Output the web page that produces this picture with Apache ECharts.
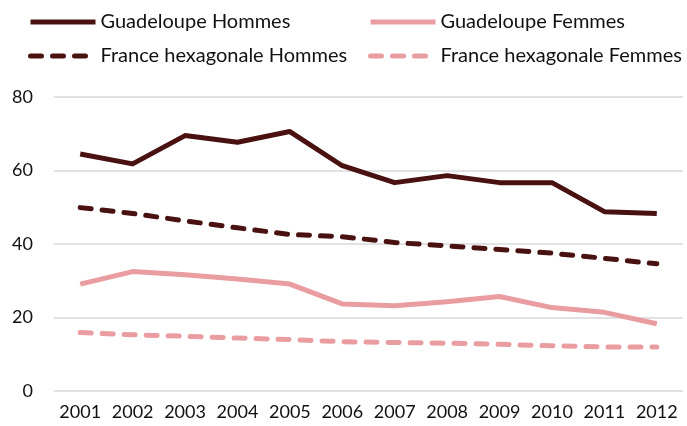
<!DOCTYPE html>
<html><head><meta charset="utf-8">
<script src="https://cdn.jsdelivr.net/npm/echarts@6/dist/echarts.min.js"></script>
<style>html,body{margin:0;padding:0;background:#fff}#c{width:687px;height:426px}</style>
</head><body><div id="c"></div>
<script>
const years = ['2001','2002','2003','2004','2005','2006','2007','2008','2009','2010','2011','2012'];
const guadeloupeHommes = [64.5, 61.8, 69.5, 67.7, 70.6, 61.3, 56.7, 58.6, 56.7, 56.7, 48.8, 48.3];
const guadeloupeFemmes = [29.1, 32.5, 31.6, 30.5, 29.1, 23.7, 23.2, 24.3, 25.7, 22.7, 21.4, 18.3];
const franceHommes = [49.9, 48.3, 46.3, 44.4, 42.6, 42.0, 40.4, 39.5, 38.5, 37.5, 36.1, 34.6];
const franceFemmes = [15.9, 15.3, 14.9, 14.4, 14.0, 13.4, 13.2, 13.0, 12.7, 12.3, 12.0, 12.0];
const yTicks = [0, 20, 40, 60, 80];

const DARK = '#4a1111', PINK = '#e99da1';
const FONT = 'Lato';
function mk(name, data, color, dashed) {
  return {
    name, type: 'line', data, symbol: 'none', smooth: false,
    lineStyle: { color, width: 5, type: dashed ? [11, 11] : 'solid', cap: dashed ? 'round' : 'butt', join: 'round' },
    itemStyle: { color }, emphasis: { disabled: true }
  };
}
function lg(name, left, top) {
  return {
    data: [name], left, top, itemWidth: 65, itemHeight: 14, itemGap: 0,
    textStyle: { fontFamily: FONT, fontSize: 20, color: '#111' },
    lineStyle: { width: 5 }, itemStyle: { opacity: 0 },
    selectedMode: false, padding: 0
  };
}
const chart = echarts.init(document.getElementById('c'));
chart.setOption({
  animation: false,
  textStyle: { fontFamily: FONT },
  legend: [
    lg('Guadeloupe Hommes', 28, 12),
    lg('Guadeloupe Femmes', 368, 12),
    lg('France hexagonale Hommes', 28, 46),
    lg('France hexagonale Femmes', 368, 46)
  ],
  grid: { left: 54, right: 4, top: 97, bottom: 35, containLabel: false },
  xAxis: {
    type: 'category', data: years, boundaryGap: true,
    axisLine: { show: false }, axisTick: { show: false },
    axisLabel: { fontFamily: FONT, fontSize: 18, color: '#111', margin: 12, interval: 0 }
  },
  yAxis: {
    type: 'value', min: yTicks[0], max: yTicks[yTicks.length-1], interval: 20,
    axisLine: { show: false }, axisTick: { show: false },
    axisLabel: { fontFamily: FONT, fontSize: 18, color: '#111', margin: 21 },
    splitLine: { lineStyle: { color: '#d9d9d9', width: 1.5 } }
  },
  series: [
    mk('Guadeloupe Hommes', guadeloupeHommes, DARK, false),
    mk('Guadeloupe Femmes', guadeloupeFemmes, PINK, false),
    mk('France hexagonale Hommes', franceHommes, DARK, true),
    mk('France hexagonale Femmes', franceFemmes, PINK, true)
  ]
});
</script></body></html>
